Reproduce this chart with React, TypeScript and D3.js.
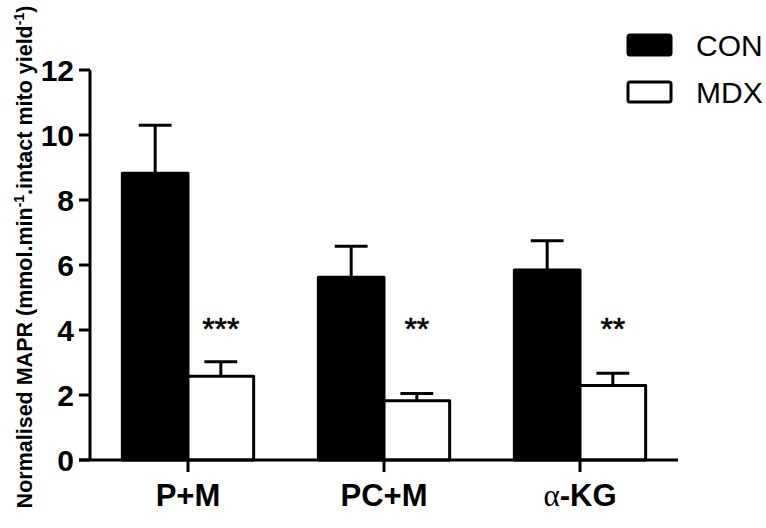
import React from 'react';
import * as d3 from 'd3';

// ─── Datos ────────────────────────────────────────────────────────────────────
const categories = ['P+M', 'PC+M', 'α-KG'];
const groups = ['CON', 'MDX'];
const conValues = [8.82, 5.62, 5.85];
const conErrors = [1.48, 0.96, 0.9];
const mdxValues = [2.58, 1.82, 2.29];
const mdxErrors = [0.44, 0.23, 0.38];
const stars = ['***', '**', '**'];
const yTicks = [0, 2, 4, 6, 8, 10, 12];

const W = 766;
const H = 528;
const FONT = 'Arial, "Liberation Sans", Helvetica, sans-serif';
const SW = 3;

export default function App() {
  const x = d3.scaleBand<string>()
    .domain(categories)
    .range([90, 678])
    .paddingInner(0.33)
    .paddingOuter(0.165);
  const sub = d3.scaleBand<string>()
    .domain(groups)
    .range([0, x.bandwidth()]);
  const y = d3.scaleLinear().domain([0, 12]).range([460, 70]);

  const series = [
    { key: 'CON', values: conValues, errors: conErrors, fill: '#000' },
    { key: 'MDX', values: mdxValues, errors: mdxErrors, fill: '#fff' },
  ];
  const bw = sub.bandwidth();
  const starY = y(3.7);

  return (
    <div style={{ position: 'fixed', left: 0, top: 0, width: W, height: H, overflow: 'hidden' }}>
      <svg width={W} height={H} style={{ display: 'block', background: '#fff' }}>
        {/* barras */}
        {series.map(s =>
          categories.map((c, i) => {
            const bx = (x(c) ?? 0) + (sub(s.key) ?? 0);
            const top = y(s.values[i]);
            const eTop = y(s.values[i] + s.errors[i]);
            const cx = bx + bw / 2;
            return (
              <g key={s.key + c}>
                <line x1={cx} x2={cx} y1={top} y2={eTop} stroke="#000" strokeWidth={SW} />
                <line x1={cx - bw / 4} x2={cx + bw / 4} y1={eTop} y2={eTop} stroke="#000" strokeWidth={SW} />
                <rect x={bx} y={top} width={bw} height={y(0) - top}
                  fill={s.fill} stroke="#000" strokeWidth={SW} strokeLinejoin="round" />
              </g>
            );
          })
        )}

        {/* asteriscos */}
        {categories.map((c, i) => (
          <text key={'s' + c} x={(x(c) ?? 0) + (sub('MDX') ?? 0) + bw / 2} y={starY}
            textAnchor="middle" fontFamily={FONT} fontSize={32} fill="#000"
            stroke="#000" strokeWidth={0.6}>{stars[i]}</text>
        ))}

        {/* eje Y */}
        <line x1={90} x2={90} y1={y(12)} y2={y(0)} stroke="#000" strokeWidth={SW} />
        {yTicks.map(t => (
          <g key={t}>
            <line x1={79} x2={90} y1={y(t)} y2={y(t)} stroke="#000" strokeWidth={SW} />
            <text x={74} y={y(t)} dy="0.36em" textAnchor="end" fontFamily={FONT}
              fontWeight="bold" fontSize={30} fill="#000">{t}</text>
          </g>
        ))}

        {/* eje X */}
        <line x1={79} x2={678} y1={y(0)} y2={y(0)} stroke="#000" strokeWidth={SW} />
        {categories.map(c => {
          const cx = (x(c) ?? 0) + x.bandwidth() / 2;
          return (
            <g key={'x' + c}>
              <line x1={cx} x2={cx} y1={y(0)} y2={y(0) + 12} stroke="#000" strokeWidth={SW} />
              <text x={cx} y={506} textAnchor="middle" fontFamily={FONT}
                fontWeight="bold" fontSize={31} fill="#000">
                {c.startsWith('α') ? (
                  <>
                    <tspan fontFamily='"Liberation Serif", "DejaVu Serif", serif' fontWeight="normal">α</tspan>
                    <tspan>{c.slice(1)}</tspan>
                  </>
                ) : c}
              </text>
            </g>
          );
        })}

        {/* título eje Y */}
        <text transform="translate(32,257) rotate(-90)" textAnchor="middle"
          fontFamily={FONT} fontWeight="bold" fontSize={21.5} fill="#000">
          Normalised MAPR (mmol.min<tspan dy={-8} fontSize={14}>-1</tspan>
          <tspan dy={8}>.intact mito yield</tspan>
          <tspan dy={-8} fontSize={14}>-1</tspan><tspan dy={8}>)</tspan>
        </text>

        {/* leyenda */}
        {series.map((s, i) => (
          <g key={'l' + s.key} transform={`translate(628,${35 + i * 47})`}>
            <rect x={0} y={0} width={43} height={20} rx={2} fill={s.fill}
              stroke="#000" strokeWidth={SW} />
            <text x={68} y={21} fontFamily={FONT} fontSize={30} fill="#000">{s.key}</text>
          </g>
        ))}
      </svg>
    </div>
  );
}
